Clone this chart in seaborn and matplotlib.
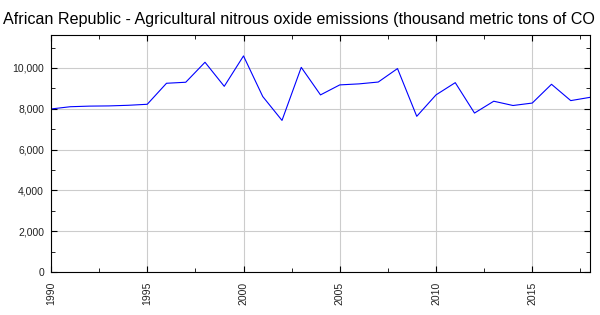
import matplotlib
matplotlib.use("Agg")
import matplotlib.pyplot as plt
from matplotlib.ticker import MultipleLocator, FuncFormatter
import seaborn as sns
import pandas as pd

years = list(range(1990, 2019))
emissions = [7990, 8100, 8130, 8140, 8170, 8220, 9250, 9300, 10280, 9100,
             10590, 8600, 7430, 10030, 8680, 9170, 9220, 9310, 9970, 7630,
             8680, 9280, 7790, 8370, 8160, 8280, 9200, 8400, 8560]
title = "African Republic - Agricultural nitrous oxide emissions (thousand metric tons of CO"

sns.set_style("white")
plt.rcParams['font.family'] = ['Liberation Sans', 'DejaVu Sans']

df = pd.DataFrame({"year": years, "value": emissions})

fig = plt.figure(figsize=(6, 3.15), dpi=100)
ax = fig.add_axes([51/600, (315-272)/315, (590-51)/600, (272-34.5)/315])
sns.lineplot(data=df, x="year", y="value", ax=ax, color="#0000ff", linewidth=0.8)

ax.set_xlim(1990, 2018)
ax.set_ylim(0, 11640)
ax.xaxis.set_major_locator(MultipleLocator(5))
ax.xaxis.set_minor_locator(MultipleLocator(2.5))
ax.yaxis.set_major_locator(MultipleLocator(2000))
ax.yaxis.set_minor_locator(MultipleLocator(1000))
ax.yaxis.set_major_formatter(FuncFormatter(lambda v, p: f"{int(v):,}"))
ax.xaxis.set_major_formatter(FuncFormatter(lambda v, p: f"{int(v)}"))
ax.grid(True, which="major", color="#cccccc", linewidth=0.8)
ax.set_xlabel("")
ax.set_ylabel("")
for s in ax.spines.values():
    s.set_visible(True)
    s.set_color("black")
    s.set_linewidth(0.8)
ax.tick_params(axis="both", which="both", direction="in", color="black", labelsize=7.5, labelcolor="#222222")
ax.tick_params(axis="both", which="major", length=4)
ax.tick_params(axis="both", which="minor", length=3)
ax.tick_params(axis="y", which="both", right=True, left=True, pad=5)
ax.tick_params(axis="x", which="both", top=True, bottom=True, pad=7)
for lbl in ax.get_xticklabels():
    lbl.set_rotation(90)

fig.text(3/600, 1 - 19.5/315, title, ha="left", va="center", fontsize=11.65, color="black")

fig.savefig("out.png", dpi=100)
